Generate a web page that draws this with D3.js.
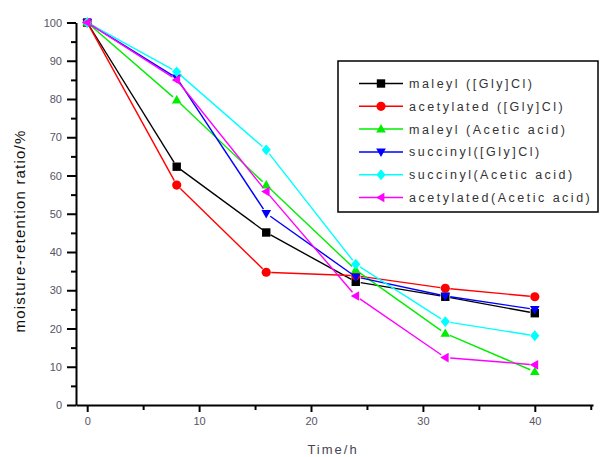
<!DOCTYPE html>
<html>
<head>
<meta charset="utf-8">
<script src="https://cdn.jsdelivr.net/npm/d3@7"></script>
<style>
  body { margin: 0; background: #fff; }
  text { font-family: Arial, "Liberation Sans", sans-serif; }
</style>
</head>
<body>
<div id="chart"></div>
<script>
// moisture retention over time
const times = [0, 8, 16, 24, 32, 40];
const seriesNames = [
    "maleyl ([Gly]Cl)",
    "acetylated ([Gly]Cl)",
    "maleyl (Acetic acid)",
    "succinyl([Gly]Cl)",
    "succinyl(Acetic acid)",
    "acetylated(Acetic acid)"
];
const maleylGly = [100, 62.3, 45.1, 32.2, 28.3, 24.0];
const acetylGly = [100, 57.5, 34.7, 33.8, 30.5, 28.3];
const maleylAcetic = [100, 79.7, 57.5, 35.3, 18.7, 8.7];
const succinylGly = [100, 85.5, 50.1, 33.5, 28.5, 25.0];
const succinylAcetic = [100, 87.1, 66.7, 36.8, 21.8, 18.1];
const acetylAcetic = [100, 85.0, 55.8, 28.5, 12.4, 10.5];
const seriesValues = [maleylGly, acetylGly, maleylAcetic, succinylGly, succinylAcetic, acetylAcetic];
const colors = ["#000000", "#ff0000", "#00ee00", "#0000ff", "#00ffff", "#ff00ff"];
const shapes = ["square", "circle", "up", "down", "diamond", "left"];
const yTicks = [0, 10, 20, 30, 40, 50, 60, 70, 80, 90, 100];
const xTicks = [0, 10, 20, 30, 40];

const width = 603, height = 457;
const svg = d3.select("#chart").append("svg")
    .attr("width", width)
    .attr("height", height);

const x = d3.scaleLinear().domain([-1, 45.2]).range([76, 593]);
const y = d3.scaleLinear().domain([0, 100]).range([405, 22.5]);

// axes
const yAxis = svg.append("g")
    .attr("transform", "translate(76,0)")
    .call(d3.axisLeft(y).tickValues(yTicks).tickSize(9).tickSizeOuter(0));
svg.append("g")
    .attr("transform", "translate(76,0)")
    .call(d3.axisLeft(y).tickValues(d3.range(5, 100, 10)).tickSize(5).tickFormat("").tickSizeOuter(0))
    .select(".domain").remove();

const xAxis = svg.append("g")
    .attr("transform", "translate(0,405)")
    .call(d3.axisBottom(x).tickValues(xTicks).tickSize(7).tickSizeOuter(0));
svg.append("g")
    .attr("transform", "translate(0,405)")
    .call(d3.axisBottom(x).tickValues([5, 15, 25, 35, 45]).tickSize(5).tickFormat("").tickSizeOuter(0))
    .select(".domain").remove();

svg.selectAll(".domain").attr("stroke", "#000").attr("stroke-width", 2);
svg.selectAll(".tick line").attr("stroke", "#000").attr("stroke-width", 2);
yAxis.selectAll("text").attr("font-size", "11px").attr("fill", "#556").attr("x", -14);
xAxis.selectAll("text").attr("font-size", "11px").attr("fill", "#556").attr("y", 12);

svg.append("text")
    .attr("transform", "translate(25,231) rotate(-90)")
    .attr("text-anchor", "middle")
    .attr("font-size", "15px")
    .attr("letter-spacing", "1.2px")
    .attr("fill", "#111")
    .text("moisture-retention ratio/%");

svg.append("text")
    .attr("x", 333).attr("y", 454)
    .attr("text-anchor", "middle")
    .attr("font-size", "13px")
    .attr("letter-spacing", "2px")
    .attr("fill", "#445")
    .text("Time/h");

function markerPath(shape, s) {
    switch (shape) {
        case "square": return `M${-s},${-s}h${2 * s}v${2 * s}h${-2 * s}Z`;
        case "circle": return d3.symbol(d3.symbolCircle, Math.PI * s * s * 1.2)();
        case "up": return `M0,${-s * 1.2}L${s * 1.15},${s * 0.8}L${-s * 1.15},${s * 0.8}Z`;
        case "down": return `M0,${s * 1.2}L${s * 1.15},${-s * 0.8}L${-s * 1.15},${-s * 0.8}Z`;
        case "diamond": return `M0,${-s * 1.3}L${s * 1.1},0L0,${s * 1.3}L${-s * 1.1},0Z`;
        case "left": return `M${-s * 1.2},0L${s * 0.8},${-s * 1.15}L${s * 0.8},${s * 1.15}Z`;
    }
}

// lines with small gaps near markers
const gap = 5;
seriesValues.forEach((vals, i) => {
    const pts = times.map((t, j) => [x(t), y(vals[j])]);
    const g = svg.append("g");
    for (let j = 0; j < pts.length - 1; j++) {
        const [x1, y1] = pts[j], [x2, y2] = pts[j + 1];
        const len = Math.hypot(x2 - x1, y2 - y1);
        const ux = (x2 - x1) / len, uy = (y2 - y1) / len;
        g.append("line")
            .attr("x1", x1 + ux * gap).attr("y1", y1 + uy * gap)
            .attr("x2", x2 - ux * gap).attr("y2", y2 - uy * gap)
            .attr("stroke", colors[i])
            .attr("stroke-width", 1.4);
    }
    g.selectAll("path")
        .data(pts)
        .enter().append("path")
        .attr("transform", d => `translate(${d[0]},${d[1]})`)
        .attr("d", markerPath(shapes[i], 4.2))
        .attr("fill", colors[i]);
});

// legend
const legend = svg.append("g");
legend.append("rect")
    .attr("x", 338).attr("y", 61)
    .attr("width", 260).attr("height", 151)
    .attr("fill", "#fff")
    .attr("stroke", "#000")
    .attr("stroke-width", 1.5);

seriesNames.forEach((name, i) => {
    const ly = 83.5 + i * 22.8;
    legend.append("line")
        .attr("x1", 359).attr("x2", 403)
        .attr("y1", ly).attr("y2", ly)
        .attr("stroke", colors[i])
        .attr("stroke-width", 1.5);
    legend.append("path")
        .attr("transform", `translate(381,${ly})`)
        .attr("d", markerPath(shapes[i], 4.2))
        .attr("fill", colors[i]);
    legend.append("text")
        .attr("x", 409).attr("y", ly + 4.5)
        .attr("font-size", "12.5px")
        .attr("letter-spacing", "2.5px")
        .attr("fill", "#333")
        .text(name);
});
</script>
</body>
</html>
